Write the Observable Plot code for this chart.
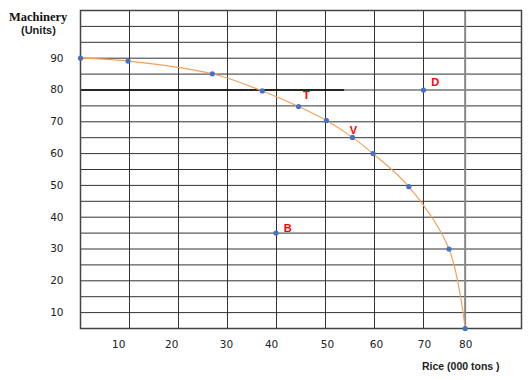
<!DOCTYPE html>
<html><head><meta charset="utf-8">
<script src="https://cdn.jsdelivr.net/npm/d3@7"></script>
<script src="https://cdn.jsdelivr.net/npm/@observablehq/plot@0.6"></script>
<style>
body{margin:0;background:#fff;}
#wrap{position:relative;width:530px;height:380px;}
.t{position:absolute;white-space:nowrap;line-height:1;color:#111;}
</style></head><body>
<div id="wrap">
<div class="t" style="left:9px;top:10px;font:bold 12.5px 'Liberation Serif',serif;">Machinery</div>
<div class="t" style="left:21px;top:24px;font:bold 11px 'Liberation Sans',sans-serif;color:#222;">(Units)</div>
<div class="t" style="left:422px;top:360px;font:bold 10.5px 'Liberation Sans',sans-serif;color:#222;">Rice (000 tons )</div>
</div>
<script>
// PPF curve points (Rice in 000 tons, Machinery in units)
const rice      = [0, 9.7, 26.9, 37.1, 44.5, 50.2, 55.5, 59.7, 67, 75.2, 78.5];
const machinery = [90, 89.1, 85.1, 79.7, 74.8, 70.4, 65.1, 60, 49.6, 30, 0];
// extra points off the curve
const extraNames = ["B", "D"];
const extraRice = [39.9, 70];
const extraMach = [35, 80];
// letter annotations
const labelText = ["T", "V", "B", "D"];
const labelRice = [46.1, 55.7, 42.3, 72.4];
const labelMach = [78.3, 67.3, 36.4, 82.3];
// x-axis tick labels as placed in the picture
const xTickLabels = ["10", "20", "30", "40", "50", "60", "70", "80"];
const xTickPos = [7.8, 18.6, 29.8, 39.0, 50.4, 60.4, 70.2, 78.6];
const yTicks = [10, 20, 30, 40, 50, 60, 70, 80, 90];

const pts = rice.map((r, i) => ({rice: r, mach: machinery[i]}));
const extra = extraNames.map((n, i) => ({name: n, rice: extraRice[i], mach: extraMach[i]}));
const labels = labelText.map((t, i) => ({t, rice: labelRice[i], mach: labelMach[i]}));
const ref80 = [{y: 80, x1: 0, x2: 53.9}];

const chart = Plot.plot({
  width: 530, height: 380,
  marginLeft: 80, marginRight: 9, marginTop: 10, marginBottom: 52,
  style: {fontFamily: "'DejaVu Sans', sans-serif", fontSize: "10.5px", color: "#222", background: "transparent"},
  x: {domain: [0, 90]},
  y: {domain: [5, 105], clamp: true},
  marks: [
    Plot.ruleX(d3.range(0, 80, 10), {stroke: "#333", strokeWidth: 1}),
    Plot.ruleY(d3.range(5, 106, 5), {stroke: "#333", strokeWidth: 1}),
    Plot.ruleX([rice[rice.length - 1]], {stroke: "#888", strokeWidth: 2}),
    Plot.ruleY(ref80, {y: "y", x1: "x1", x2: "x2", stroke: "#000", strokeWidth: 1.6}),
    Plot.frame({stroke: "#444", strokeWidth: 1.5}),
    Plot.axisY({ticks: yTicks, tickSize: 0, tickPadding: 17, label: null}),
    Plot.axisX({ticks: xTickPos, tickFormat: (d, i) => xTickLabels[i], tickSize: 0, tickPadding: 12, label: null}),
    Plot.line(pts, {x: "rice", y: "mach", curve: "catmull-rom", stroke: "#f4a05c", strokeWidth: 1.2}),
    Plot.dot(pts, {x: "rice", y: "mach", r: 2.6, fill: "#4472c4", stroke: "none"}),
    Plot.dot(extra, {x: "rice", y: "mach", r: 2.6, fill: "#4472c4", stroke: "none"}),
    Plot.text(labels, {x: "rice", y: "mach", text: "t", fill: "#ff0000", fontWeight: "bold", fontSize: 11, fontFamily: "'Liberation Sans', sans-serif"})
  ]
});
document.getElementById("wrap").prepend(chart);
</script>
</body></html>
